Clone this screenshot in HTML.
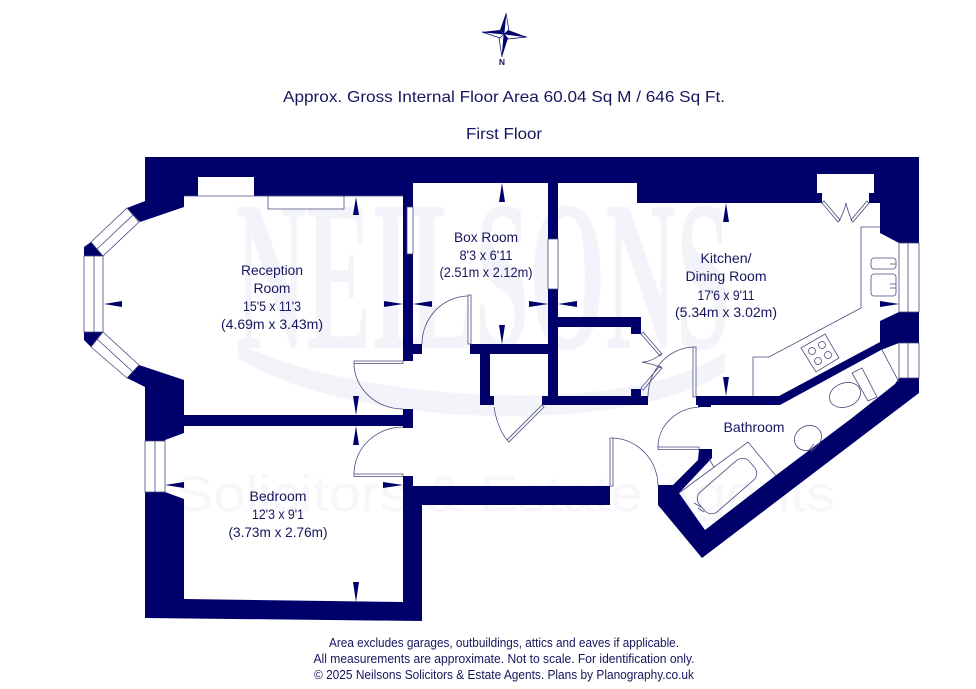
<!DOCTYPE html>
<html><head><meta charset="utf-8"><style>
html,body{margin:0;padding:0;background:#fff;width:976px;height:689px;overflow:hidden}
svg{display:block}
text{font-family:"Liberation Sans",sans-serif;fill:#16165e;text-anchor:middle}
.r{font-size:14px}
.f{font-size:12.5px}
.h{font-size:16px}
.l{fill:none;stroke:#4a4a80;stroke-width:.8}
.w{fill:#fff;stroke:#4a4a80;stroke-width:.8}
.d{fill:#00006b}
</style></head><body>
<svg width="976" height="689" viewBox="0 0 976 689" xmlns="http://www.w3.org/2000/svg">
<!-- watermark -->
<g>
<text x="483" y="348" textLength="495" lengthAdjust="spacingAndGlyphs" style="font-family:'Liberation Serif',serif;font-size:215px;font-weight:bold;fill:#f3f4fa">NEILSONS</text>
<path d="M238 342C330 395 620 425 725 352L725 372C620 440 340 425 238 358Z" fill="#f3f4fa"/>
<text x="505" y="511" textLength="660" lengthAdjust="spacingAndGlyphs" style="font-size:50px;fill:#f6f6fb">Solicitors &amp; Estate Agents</text>
</g>

<!-- walls -->
<g class="d">
<path d="M145 157H919V243H899L880 233V203H869V193H874V174H817V193H822V203H637V183H558V239H548V183H413V207H407V254H413V344H422V354H413V361H403V196H254V177H198V196H184V207L140 222L127 208L145 201Z"/>
<path d="M548 289H558V317H641V334H631V327H558V396H631V389H641V396H648V405H542V396H548V354H490V396H494V405H480V354H470V344H548Z"/>
<path d="M127 378L139 365L184 380V415H403V409H413V428H403V426H184V433L165 440V441H145V387Z"/>
<path d="M145 492H165L184 499V599L403 602V476H413V486H610V505H422V621L145 618Z"/>
<path d="M84 247L91 242L98 249L103 256H84Z"/>
<path d="M84 332H103L97 339L91 347L84 340Z"/>
<path d="M899 312H919V343H899L880 342V321Z"/>
<path d="M880 342L899 341V343L881 350L780 405H696V396H779Z"/>
<path d="M698 405H711V407H698Z"/>
<path d="M658 485H673L698 460L699 449H712V458L679 493L705 530L775 476L852 418L895 384L899 378H919V393L702 558L658 505Z"/>
</g>

<!-- windows -->
<g class="w">
<path d="M127 208L139 222L103 256L91 242Z"/>
<path d="M84 256H103V332H84Z"/>
<path d="M103 332L139 365L127 378L91 347Z"/>
<path d="M145 441H165V492H145Z"/>
<path d="M407 207H413V254H407Z"/>
<path d="M548 239H558V289H548Z"/>
<path d="M899 243H919V312H899Z"/>
<path d="M899 343H919V378H899Z"/>
</g>
<path class="l" d="M133 215L97 249M94 256V332M97 339L133 372M155 441V492M908 243V312M908 343V378"/>

<!-- chimney breast & reception unit -->
<path class="w" d="M268 196H344V209H268Z"/>
<path class="l" d="M184 196H403"/>

<!-- doors -->
<g class="w">
<path d="M354 361H403V363.5H354Z"/>
<path d="M354 474H403V476.5H354Z"/>
<path d="M468 295H471V344H468Z"/>
<path d="M693 347H696V397H693Z"/>
<path d="M658 447H699V449.5H658Z"/>
<path d="M610 438H613V486H610Z"/>
<path d="M542 405L544 407L509 442L507 440Z"/>
<path d="M641 334L643 332L662 354L660 356Z"/>
<path d="M641 388L643 390L662 368L660 366Z"/>
<path d="M822 203L824 201L840 220L838 222Z"/>
<path d="M869 203L867 201L851 220L853 222Z"/>
</g>
<g class="l">
<path d="M354 363A49 46 0 0 0 403 409"/>
<path d="M354 474A49 47 0 0 1 403 427"/>
<path d="M468 296A47 48 0 0 0 422 344"/>
<path d="M693 347A47 50 0 0 0 648 397"/>
<path d="M658 447A44 40 0 0 1 700 407"/>
<path d="M613 438A47 48 0 0 1 658 486"/>
<path d="M494 407C496 420 500 431 507 440"/>
<path d="M642 362C650 362 656 358 661 354M642 362C650 364 654 364 661 368"/>
<path d="M839 221C843 214 845 208 846 203C847 208 849 214 852 221"/>
</g>

<!-- kitchen units -->
<g class="l">
<path d="M880 227H861V308L769 357H753V396"/>
<path d="M801 348L825 334L839 358L816 372Z"/>
<circle cx="812" cy="351" r="3.5"/><circle cx="822" cy="345" r="3.5"/><circle cx="818" cy="361" r="3.5"/><circle cx="828" cy="355" r="3.5"/>
<rect x="871" y="258" width="25" height="11" rx="3"/>
<rect x="871" y="274" width="25" height="22" rx="3"/>
<path d="M890 264H896M890 284H896M890 288H896"/>
</g>

<!-- bathroom fittings -->
<g class="l">
<path d="M679 493L748 442L776 476"/>
<path d="M709 459L714 467"/>
<rect x="-33" y="-13" width="66" height="26" rx="9" transform="translate(727 486) rotate(-41)" />
<path d="M694 503L701 507M698 508L704 512"/>
<ellipse cx="808" cy="438" rx="14" ry="12" transform="rotate(-30 808 438)"/>
<path d="M809 450L814 444M811 452L816 447"/>
<ellipse cx="845" cy="395" rx="16" ry="12" transform="rotate(-20 845 395)"/>
<path d="M852 373L862 368L877 397L868 401Z" fill="#fff"/>
<path d="M882 350L899 382"/>
</g>

<!-- arrows -->
<g class="d">
<path d="M104 304L122 301V307Z"/>
<path d="M403 304L384 301V307Z"/>
<path d="M413 304L432 301V307Z"/>
<path d="M548 304L529 301V307Z"/>
<path d="M558 304L577 301V307Z"/>
<path d="M899 304L880 301V307Z"/>
<path d="M356 197L353 215H359Z"/>
<path d="M356 415L353 396H359Z"/>
<path d="M356 426L353 445H359Z"/>
<path d="M356 602L353 582H359Z"/>
<path d="M165 485L184 482V488Z"/>
<path d="M403 485L383 482V488Z"/>
<path d="M502 183L499 202H505Z"/>
<path d="M502 344L499 325H505Z"/>
<path d="M726 203L723 222H729Z"/>
<path d="M726 396L723 377H729Z"/>
</g>

<!-- compass -->
<path d="M506 13L504 34L500 30Z" fill="#00006b"/>
<path d="M506 13L504 34L509 31Z" fill="#fff" stroke="#00006b" stroke-width=".7"/>
<path d="M527 37L504 34L508 30Z" fill="#00006b"/>
<path d="M527 37L504 34L508 39Z" fill="#fff" stroke="#00006b" stroke-width=".7"/>
<path d="M502 57L504 34L508 38Z" fill="#00006b"/>
<path d="M502 57L504 34L499 38Z" fill="#fff" stroke="#00006b" stroke-width=".7"/>
<path d="M482 32L504 34L500 38Z" fill="#fff" stroke="#00006b" stroke-width=".7"/>
<path d="M482 32L504 34L500 30Z" fill="#00006b"/>
<text x="502" y="65" style="font-size:8.5px;font-weight:bold">N</text>

<!-- headings -->
<text class="h" x="504" y="102" textLength="442" lengthAdjust="spacingAndGlyphs">Approx. Gross Internal Floor Area 60.04 Sq M / 646 Sq Ft.</text>
<text class="h" x="504" y="139" textLength="76" lengthAdjust="spacingAndGlyphs">First Floor</text>

<!-- room labels -->
<text class="r" x="272" y="275" textLength="62" lengthAdjust="spacingAndGlyphs">Reception</text>
<text class="r" x="272" y="293" textLength="37" lengthAdjust="spacingAndGlyphs">Room</text>
<text class="r" x="272" y="311" textLength="58" lengthAdjust="spacingAndGlyphs">15'5 x 11'3</text>
<text class="r" x="272" y="329" textLength="102" lengthAdjust="spacingAndGlyphs">(4.69m x 3.43m)</text>

<text class="r" x="486" y="242" textLength="64" lengthAdjust="spacingAndGlyphs">Box Room</text>
<text class="r" x="486" y="260" textLength="53" lengthAdjust="spacingAndGlyphs">8'3 x 6'11</text>
<text class="r" x="486" y="277" textLength="93" lengthAdjust="spacingAndGlyphs">(2.51m x 2.12m)</text>

<text class="r" x="726" y="263" textLength="51" lengthAdjust="spacingAndGlyphs">Kitchen/</text>
<text class="r" x="726" y="281" textLength="81" lengthAdjust="spacingAndGlyphs">Dining Room</text>
<text class="r" x="726" y="300" textLength="57" lengthAdjust="spacingAndGlyphs">17'6 x 9'11</text>
<text class="r" x="726" y="317" textLength="102" lengthAdjust="spacingAndGlyphs">(5.34m x 3.02m)</text>

<text class="r" x="278" y="501" textLength="57" lengthAdjust="spacingAndGlyphs">Bedroom</text>
<text class="r" x="278" y="519" textLength="52" lengthAdjust="spacingAndGlyphs">12'3 x 9'1</text>
<text class="r" x="278" y="537" textLength="99" lengthAdjust="spacingAndGlyphs">(3.73m x 2.76m)</text>

<text class="r" x="754" y="432" textLength="61" lengthAdjust="spacingAndGlyphs">Bathroom</text>

<!-- footer -->
<text class="f" x="504" y="647" textLength="350" lengthAdjust="spacingAndGlyphs">Area excludes garages, outbuildings, attics and eaves if applicable.</text>
<text class="f" x="504" y="663" textLength="381" lengthAdjust="spacingAndGlyphs">All measurements are approximate. Not to scale. For identification only.</text>
<text class="f" x="504" y="679" textLength="380" lengthAdjust="spacingAndGlyphs">© 2025 Neilsons Solicitors &amp; Estate Agents. Plans by Planography.co.uk</text>
</svg>
</body></html>
